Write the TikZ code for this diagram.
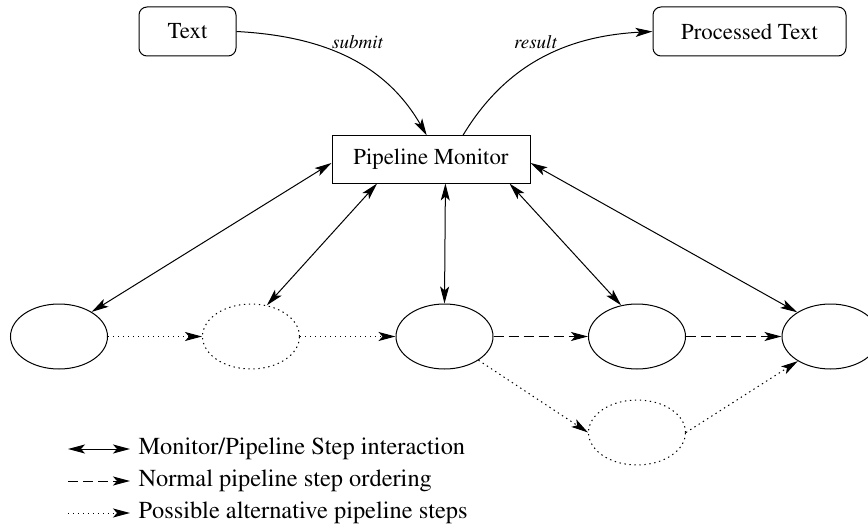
\documentclass[tikz,border=0pt]{standalone}
\usepackage[T1]{fontenc}
\usepackage{mathptmx}
\usetikzlibrary{arrows.meta,shapes.geometric}

\begin{document}
\begin{tikzpicture}[>={Stealth[length=8.5pt,width=4.5pt,inset=2pt]}, x=.5pt, y=.5pt, line width=.5pt,
  txtbox/.style={draw, rounded corners=4pt, minimum width=48.5pt, minimum height=24.5pt, inner sep=0pt, font=\fontsize{11.4}{13}\selectfont},
  monbox/.style={draw, minimum width=99pt, minimum height=23.5pt, inner sep=0pt, font=\fontsize{11.4}{13}\selectfont},
  pstep/.style={draw, ellipse, minimum width=48.5pt, minimum height=32.5pt, inner sep=0pt},
  dotline/.style={dash pattern=on .7pt off 1.8pt},
  dashline/.style={dash pattern=on 5pt off 2.5pt},
  altstep/.style={pstep, dotline},
  lbl/.style={font=\fontsize{9.5}{11}\selectfont\itshape},
  legtext/.style={anchor=west, inner sep=0pt, font=\fontsize{12.2}{14}\selectfont}]
\useasboundingbox (0,0) rectangle (868,526);

\node[txtbox] (txt) at (187.5,494.5) {Text};
\node[txtbox, minimum width=96.5pt] (ptxt) at (749.5,494.5) {Processed Text};
\node[monbox] (mon) at (431,366.5) {Pipeline Monitor};

% pipeline steps
\node[pstep] (s1) at (59,189.5) {};
\node[altstep] (s2) at (251,189.5) {};
\node[pstep] (s3) at (444.5,189.5) {};
\node[pstep] (s4) at (637,189.5) {};
\node[pstep] (s5) at (830.5,189.5) {};
\node[altstep] (s6) at (637,93.5) {};

\draw[->] (txt.east) to[out=-3, in=120] (mon.100);
\draw[->] (mon.37) to[out=59, in=183] (ptxt.west);
\node[lbl] (lsub) at (357.5,484) {submit};
\node[lbl] (lres) at (535.5,484) {result};

\draw[<->] (mon.182) -- (s1.37);
\draw[<->] (mon.204) -- (s2.63);
\draw[<->] (mon.301) -- (s3.north);
\draw[<->] (mon.343) -- (s4.117);
\draw[<->] (mon.358) -- (s5.144);

\draw[->, dotline] (s1.east) -- (s2.west);
\draw[->, dotline] (s2.east) -- (s3.west);
\draw[->, dashline] (s3.east) -- (s4.west);
\draw[->, dashline] (s4.east) -- (s5.west);
\draw[->, dotline] (s3.325) -- (s6.west);
\draw[->, dotline] (s6.east) -- (s5.217);

% legend
\coordinate (l1) at (68,77);
\coordinate (l2) at (68,45);
\coordinate (l3) at (68,13);
\node[legtext] (leg1) at (138,77) {Monitor/Pipeline Step interaction};
\node[legtext] (leg2) at (138,45) {Normal pipeline step ordering};
\node[legtext] (leg3) at (138,13) {Possible alternative pipeline steps};
\draw[<->] (l1) -- ([xshift=-4pt]leg1.west);
\draw[->, dashline] (l2) -- ([xshift=-4pt]leg2.west);
\draw[->, dotline] (l3) -- ([xshift=-4pt]leg3.west);

\end{tikzpicture}
\end{document}
